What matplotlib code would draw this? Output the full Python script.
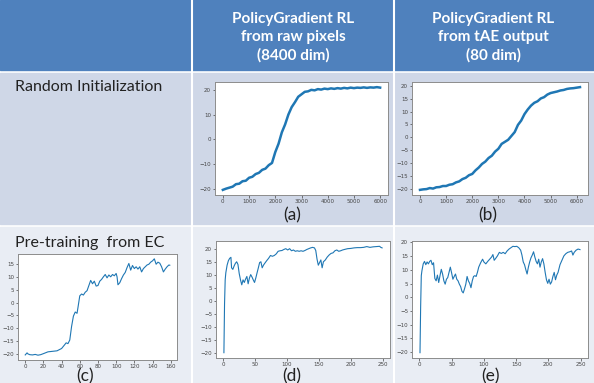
import matplotlib
matplotlib.use('Agg')
import matplotlib.pyplot as plt
from matplotlib.patches import Rectangle

# header / row text
col_titles = ["PolicyGradient RL\nfrom raw pixels\n(8400 dim)",
              "PolicyGradient RL\nfrom tAE output\n(80 dim)"]
row_titles = ["Random Initialization", "Pre-training  from EC"]
panel_tags = ["(a)", "(b)", "(c)", "(d)", "(e)"]

# (a) raw pixels, random init
a_x = list(range(0, 6001, 125))
a_y = [-20.5, -20.0, -19.6, -19.2, -18.2, -18.0, -17.0, -16.8, -15.6, -15.2, -14.1, -13.6,
       -12.4, -11.9, -10.5, -9.6, -5.2, -1.8, 2.8, 6.0, 10.0, 13.0, 15.0, 17.2, 18.2, 19.2,
       19.4, 20.0, 19.8, 20.3, 20.1, 20.5, 20.3, 20.6, 20.4, 20.7, 20.5, 20.8, 20.6, 20.9,
       20.7, 20.9, 20.8, 21.0, 20.8, 21.0, 20.9, 21.1, 20.9]

# (b) tAE output, random init
b_x = list(range(0, 6126, 125))
b_y = [-20.5, -20.3, -20.2, -19.8, -20.0, -19.5, -19.4, -19.0, -19.0, -18.5, -18.3, -17.6,
       -17.2, -16.3, -15.8, -14.8, -14.3, -12.9, -11.8, -10.4, -9.5, -8.1, -7.2, -5.6, -4.5,
       -2.6, -1.8, -1.0, 0.5, 2.0, 4.8, 6.5, 9.0, 10.8, 12.3, 13.4, 14.0, 15.1, 15.6, 16.6,
       17.2, 17.5, 17.8, 18.2, 18.4, 18.8, 19.0, 19.1, 19.3, 19.5]

# (c) pre-training from EC
c_x = [0, 2, 3, 5, 8, 11, 14, 17, 20, 25, 30, 35, 40, 43, 45, 47, 49, 51, 53, 55,
       57, 58, 60, 62, 64, 66, 68, 70, 72, 74, 76, 78, 80, 82, 84, 86, 88, 90, 92, 94,
       96, 98, 100, 101, 102, 104, 106, 108, 110, 112, 114, 116, 118, 120, 122, 124,
       126, 128, 130, 132, 134, 136, 138, 140, 142, 144, 146, 148, 150, 152, 154, 156, 158, 159]
c_y = [-20.4, -19.6, -20.0, -20.3, -20.4, -20.2, -20.5, -20.3, -19.9, -19.2, -19.0, -18.8,
       -17.9, -16.6, -15.7, -16.0, -14.6, -9.3, -5.3, -3.7, -4.2, -2.0, 2.6, 3.3, 2.9, 4.0,
       4.6, 6.6, 8.6, 7.3, 8.3, 6.4, 6.6, 8.3, 9.0, 10.0, 10.9, 9.6, 10.7, 10.0, 10.9, 10.4,
       11.3, 10.0, 6.9, 7.7, 9.3, 10.7, 11.7, 13.6, 15.2, 12.6, 14.4, 13.2, 13.9, 13.0, 13.9,
       11.9, 13.2, 13.9, 14.6, 14.9, 15.7, 16.2, 17.0, 14.9, 15.7, 15.3, 13.9, 11.9, 13.0,
       13.9, 14.6, 14.5]

# (d) raw pixels, pre-trained
d_x = [1, 2, 3, 4, 6, 8, 10, 12, 13, 15, 17, 19, 21, 23, 25, 27, 29, 31, 33, 35, 37, 39,
       41, 43, 45, 47, 49, 51, 53, 55, 57, 59, 61, 63, 65, 68, 71, 74, 77, 80, 83, 86, 89,
       92, 95, 98, 101, 104, 107, 110, 113, 116, 119, 122, 125, 128, 131, 134, 137, 140,
       143, 145, 147, 149, 151, 153, 155, 157, 160, 163, 166, 169, 172, 175, 178, 181, 184,
       187, 190, 195, 200, 205, 210, 215, 220, 225, 230, 235, 240, 245, 247, 249]
d_y = [-19.7, -1.0, 8.1, 10.8, 13.7, 15.4, 16.3, 16.7, 12.7, 12.1, 13.4, 14.4, 15.0, 14.0,
       10.5, 8.1, 6.2, 8.1, 7.1, 8.4, 9.4, 6.6, 8.8, 10.1, 9.2, 8.1, 7.1, 8.8, 10.8, 12.7,
       14.7, 15.0, 12.7, 13.7, 14.4, 15.4, 16.3, 17.4, 17.1, 17.4, 18.0, 19.0, 19.2, 19.3,
       19.7, 20.0, 19.5, 20.0, 19.2, 19.5, 19.0, 19.2, 19.0, 19.2, 19.0, 19.3, 19.7, 20.0,
       20.3, 20.5, 20.3, 19.3, 16.0, 13.7, 14.7, 15.7, 12.7, 15.0, 15.7, 16.8, 17.6, 18.2,
       18.4, 19.2, 19.5, 19.0, 19.2, 19.5, 19.7, 20.0, 20.1, 20.3, 20.4, 20.4, 20.5, 20.8,
       20.5, 20.7, 20.8, 20.9, 20.5, 20.3]

# (e) tAE output, pre-trained
e_x = [1, 2, 3, 4, 6, 8, 10, 12, 14, 16, 18, 20, 22, 24, 26, 28, 30, 32, 34, 36, 38, 40,
       42, 44, 46, 48, 50, 52, 54, 56, 58, 60, 62, 64, 66, 68, 70, 72, 74, 76, 78, 80, 82,
       84, 86, 88, 90, 92, 95, 98, 100, 103, 106, 109, 112, 114, 116, 118, 121, 124, 127,
       130, 133, 136, 139, 142, 145, 148, 151, 154, 157, 159, 161, 163, 165, 167, 169, 171,
       173, 175, 177, 179, 181, 183, 185, 187, 189, 191, 193, 195, 197, 199, 201, 203, 205,
       207, 209, 211, 213, 215, 218, 221, 224, 227, 230, 233, 236, 238, 240, 243, 246, 249]
e_y = [-20.2, -3.4, 7.9, 9.7, 12.2, 13.1, 11.9, 12.9, 12.2, 13.1, 13.5, 11.9, 12.6, 6.9,
       6.0, 8.1, 5.4, 7.9, 10.2, 8.5, 6.0, 4.8, 6.6, 7.2, 9.1, 11.0, 8.9, 6.6, 7.6, 8.5, 6.6,
       6.0, 4.8, 3.9, 2.2, 1.6, 3.1, 4.8, 7.6, 6.0, 5.1, 3.5, 6.0, 7.6, 7.9, 7.6, 9.1, 11.0,
       12.6, 13.9, 12.9, 12.2, 13.1, 13.9, 14.7, 15.6, 13.5, 14.1, 15.1, 16.4, 16.0, 16.4,
       15.9, 16.9, 17.6, 18.1, 18.6, 18.5, 18.6, 18.1, 17.2, 15.4, 12.9, 11.9, 10.1, 8.5,
       11.0, 12.9, 14.4, 15.4, 16.6, 14.7, 13.1, 12.2, 13.9, 11.0, 12.9, 14.1, 12.2, 9.1,
       6.4, 5.1, 6.6, 4.8, 5.6, 7.6, 9.1, 6.4, 8.1, 9.1, 11.9, 13.5, 15.1, 15.9, 16.4, 16.6,
       16.9, 15.4, 16.4, 17.2, 17.6, 17.4]

W, H = 594, 383
fig = plt.figure(figsize=(W / 100, H / 100), dpi=100)

# table background in pixel coords
bg = fig.add_axes([0, 0, 1, 1])
bg.set_xlim(0, W)
bg.set_ylim(H, 0)
bg.axis('off')
bg.add_patch(Rectangle((0, 0), W, H, color='white'))
bg.add_patch(Rectangle((0, 0), W, 70, color='#4F81BD'))
bg.add_patch(Rectangle((0, 73), W, 151, color='#CFD7E7'))
bg.add_patch(Rectangle((0, 227), W, 156, color='#E9EDF4'))
for xv in [192, 394]:
    bg.plot([xv, xv], [0, H], color='white', lw=1.5)

font = 'Lato'
for cx, t in zip([293, 493], col_titles):
    bg.text(cx, 37, t, color='white', fontsize=11, fontweight='bold', family=font,
            ha='center', va='center', linespacing=1.35)
bg.text(15, 87, row_titles[0], fontsize=11.5, family=font, ha='left', va='center', color='#222222')
bg.text(15, 243, row_titles[1], fontsize=11.5, family=font, ha='left', va='center', color='#222222')

def style(ax):
    ax.set_facecolor('white')
    for s in ax.spines.values():
        s.set_color('#8c8c8c')
        s.set_linewidth(0.7)
    ax.tick_params(labelsize=4.0, length=1.8, width=0.5, pad=1.0, colors='#444444')

boxes = [
    [215 / W, 1 - 195 / H, 173 / W, 113 / H],
    [412 / W, 1 - 195 / H, 176 / W, 113 / H],
    [18 / W, 1 - 360 / H, 159 / W, 106 / H],
    [216 / W, 1 - 358 / H, 174 / W, 117 / H],
    [412 / W, 1 - 358 / H, 176 / W, 117 / H],
]
series = [(a_x, a_y, 1.8), (b_x, b_y, 1.8), (c_x, c_y, 0.8), (d_x, d_y, 0.8), (e_x, e_y, 0.8)]
yticks = [[-20, -10, 0, 10, 20], list(range(-20, 21, 5)), list(range(-20, 16, 5)),
          list(range(-20, 21, 5)), list(range(-20, 21, 5))]
xticks = [list(range(0, 6001, 1000)), list(range(0, 6001, 1000)), list(range(0, 161, 20)),
          list(range(0, 251, 50)), list(range(0, 251, 50))]
tag_pos = [(292, 215), (488, 215), (85, 376), (292, 376), (490, 376)]

for box, (xs, ys, lw), yt, xt, tag, tp in zip(boxes, series, yticks, xticks, panel_tags, tag_pos):
    ax = fig.add_axes(box)
    ax.plot(xs, ys, color='#1f77b4', lw=lw)
    ax.set_yticks(yt)
    ax.set_xticks(xt)
    style(ax)
    bg.text(tp[0], tp[1], tag, fontsize=12.5, family=font, ha='center', va='center', color='#222222')

fig.savefig('out.png', dpi=100)
